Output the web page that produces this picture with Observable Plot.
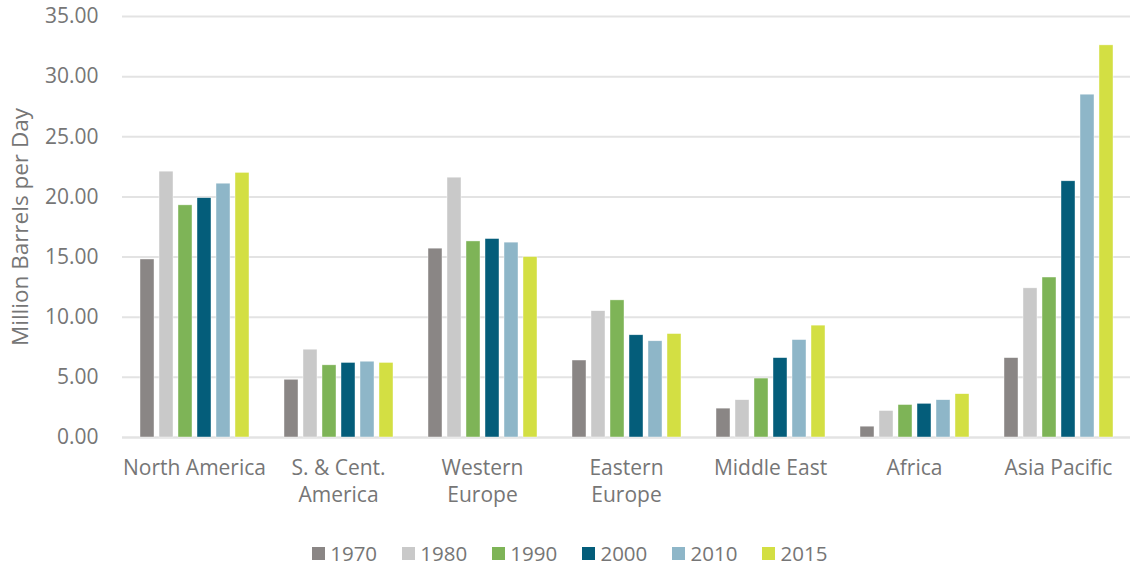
<!DOCTYPE html>
<html>
<head>
<meta charset="utf-8">
<script src="https://cdn.jsdelivr.net/npm/d3@7"></script>
<script src="https://cdn.jsdelivr.net/npm/@observablehq/plot@0.6"></script>
<style>
  html, body { margin: 0; padding: 0; background: #fff; }
  body { width: 1131px; height: 566px; overflow: hidden; font-family: "Open Sans", sans-serif; }
  #chart svg { display: block; }
  #legend { display: flex; justify-content: flex-start; align-items: center; margin-top: 22px; padding-left: 311.7px; font-size: 20.5px; color: #767676; line-height: 22px; height: 22px; }
  .item { display: inline-flex; align-items: center; margin-right: 24.7px; white-space: nowrap; }
  .item:last-child { margin-right: 0; }
  .sw { width: 13px; height: 13px; margin-right: 5.5px; display: inline-block; flex: none; }
  .lab { display: inline-block; white-space: nowrap; line-height: 22px; }
</style>
</head>
<body>
<div id="chart"></div>
<div id="legend"></div>
<script>
const regions = ["North America", "S. & Cent. America", "Western Europe", "Eastern Europe", "Middle East", "Africa", "Asia Pacific"];
const regionLabels = ["North America", "S. & Cent.\nAmerica", "Western\nEurope", "Eastern\nEurope", "Middle East", "Africa", "Asia Pacific"];
const years = ["1970", "1980", "1990", "2000", "2010", "2015"];
const colors = ["#8a8685", "#c9c9c9", "#7eb457", "#045d7a", "#8eb6c8", "#d3df43"];

const v1970 = [14.8, 4.8, 15.7, 6.4, 2.4, 0.9, 6.6];
const v1980 = [22.1, 7.3, 21.6, 10.5, 3.1, 2.2, 12.4];
const v1990 = [19.3, 6.0, 16.3, 11.4, 4.9, 2.7, 13.3];
const v2000 = [19.9, 6.2, 16.5, 8.5, 6.6, 2.8, 21.3];
const v2010 = [21.1, 6.3, 16.2, 8.0, 8.1, 3.1, 28.5];
const v2015 = [22.0, 6.2, 15.0, 8.6, 9.3, 3.6, 32.6];
const yTicks = [0, 5, 10, 15, 20, 25, 30, 35];

const series = [v1970, v1980, v1990, v2000, v2010, v2015];
const data = [];
regions.forEach((r, i) => years.forEach((y, j) => data.push({region: r, year: y, value: series[j][i]})));

const labelOf = new Map(regions.map((r, i) => [r, regionLabels[i]]));

const chart = Plot.plot({
  width: 1131,
  height: 520,
  marginLeft: 121,
  marginRight: 0,
  marginTop: 16,
  marginBottom: 83,
  style: {fontFamily: "Open Sans, sans-serif", fontSize: "21px", color: "#767676", background: "#fff", overflow: "visible"},
  fx: {domain: regions, padding: 0},
  x: {domain: years, paddingInner: 0.27, paddingOuter: 0.9},
  y: {domain: [0, 35]},
  color: {domain: years, range: colors},
  marks: [
    Plot.gridY(yTicks, {stroke: "#e3e3e3", strokeOpacity: 1, strokeWidth: 2}),
    Plot.ruleY([0], {stroke: "#e3e3e3", strokeWidth: 2}),
    Plot.barY(data, {fx: "region", x: "year", y: "value", fill: "year", stroke: "#ffffff", strokeWidth: 0.6, strokeOpacity: 0.7}),
    Plot.axisY(yTicks, {tickSize: 0, tickPadding: 24, tickFormat: d3.format(".2f"), fill: "#767676", fontSize: 21,
      label: "Million Barrels per Day", labelAnchor: "center", labelArrow: "none", labelOffset: 110}),
    Plot.axisFx({anchor: "bottom", tickSize: 0, tickPadding: 18, tickFormat: d => labelOf.get(d), lineHeight: 1.29, fill: "#767676", fontSize: 21, label: null}),
    Plot.axisX({ticks: [], label: null})
  ]
});
chart.querySelectorAll("g[aria-label='y-axis label'] text").forEach(t => t.setAttribute("font-size", "22.5"));
document.getElementById("chart").appendChild(chart);

const legend = document.getElementById("legend");
years.forEach((y, i) => {
  const it = document.createElement("span");
  it.className = "item";
  const sw = document.createElement("span");
  sw.className = "sw";
  sw.style.background = colors[i];
  const lab = document.createElement("span");
  lab.className = "lab";
  lab.textContent = y;
  it.appendChild(sw);
  it.appendChild(lab);
  legend.appendChild(it);
});
</script>
</body>
</html>
